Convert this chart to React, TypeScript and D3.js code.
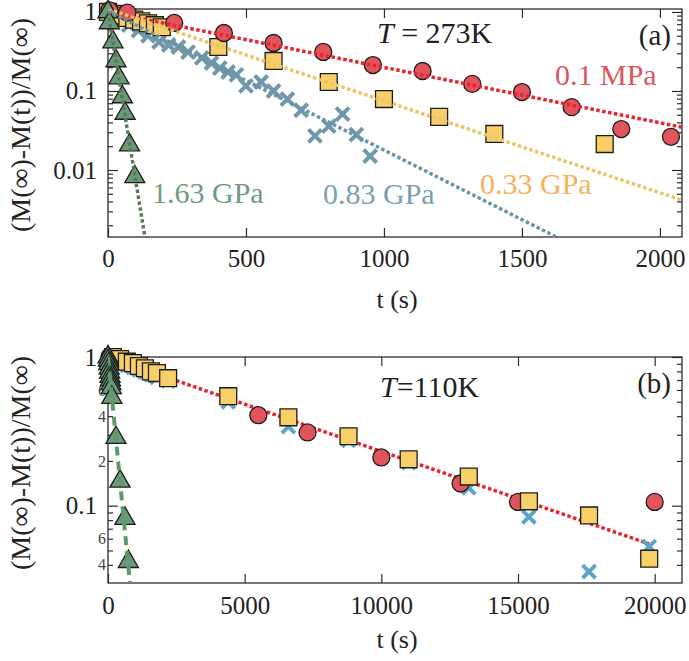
import React, { useRef, useEffect } from 'react'
import * as d3 from 'd3'

// ---- panel (a), T = 273K ----
const aXTicks = [0, 500, 1000, 1500, 2000]
const aXTickLabels = ['0', '500', '1000', '1500', '2000']
const aYTicks = [1, 0.1, 0.01]
const aYTickLabels = ['1', '0.1', '0.01']

// 0.1 MPa
const aCircleT = [5, 70, 240, 420, 600, 780, 960, 1140, 1320, 1500, 1680, 1860, 2040]
const aCircleV = [1.05, 0.98, 0.726, 0.542, 0.405, 0.312, 0.213, 0.179, 0.123, 0.097, 0.0625, 0.033, 0.0263]
// 0.33 GPa
const aSquareT = [0, 20, 45, 70, 95, 120, 145, 170, 195, 400, 600, 800, 1000, 1200, 1400, 1800]
const aSquareV = [1.0, 0.95, 0.9, 0.84, 0.8, 0.76, 0.72, 0.68, 0.64, 0.36, 0.24, 0.13, 0.079, 0.047, 0.0286, 0.0213]
// 0.83 GPa
const aCrossT = [40, 75, 110, 145, 185, 220, 255, 290, 340, 375, 405, 435, 465, 500, 555, 600, 650, 700, 750, 800, 850, 900, 950]
const aCrossV = [0.8, 0.68, 0.58, 0.5, 0.417, 0.382, 0.36, 0.31, 0.262, 0.226, 0.195, 0.174, 0.16, 0.116, 0.13, 0.1, 0.079, 0.057, 0.027, 0.036, 0.051, 0.028, 0.015]
// 1.63 GPa
const aTriT = [0, 5, 18, 29, 40, 52, 62, 78, 97]
const aTriV = [1.0, 0.726, 0.417, 0.24, 0.146, 0.084, 0.052, 0.0207, 0.0082]

// fitted lines (end points)
const aRedFitT = [0, 2080]
const aRedFitV = [1.0, 0.0348]
const aYellowFitT = [0, 2080]
const aYellowFitV = [1.09, 0.00416]
const aBlueFitT = [0, 1625]
const aBlueFitV = [1.03, 0.00142]
const aGreenFitT = [0, 134]
const aGreenFitV = [1.0, 0.00141]

// ---- panel (b), T = 110K ----
const bXTicks = [0, 5000, 10000, 15000, 20000]
const bXTickLabels = ['0', '5000', '10000', '15000', '20000']
const bYTicks = [1, 0.1]
const bYTickLabels = ['1', '0.1']
const bMinorLabelV = [0.6, 0.4, 0.2, 0.06, 0.04]
const bMinorLabels = ['6', '4', '2', '6', '4']

const bCircleT = [50, 300, 5500, 7300, 10000, 12900, 15000, 20000]
const bCircleV = [1.0, 0.97, 0.406, 0.311, 0.211, 0.141, 0.106, 0.106]
const bSquareT = [180, 440, 690, 910, 1130, 1350, 1570, 1790, 2200, 4400, 6600, 8800, 11000, 13200, 15400, 17600, 19800]
const bSquareV = [1.0, 0.97, 0.93, 0.91, 0.87, 0.84, 0.8, 0.78, 0.72, 0.545, 0.393, 0.293, 0.205, 0.157, 0.107, 0.086, 0.044]
const bCrossT = [180, 440, 690, 910, 1130, 1350, 1570, 1790, 2200, 4400, 6600, 8800, 11000, 13200, 15400, 17600, 19800]
const bCrossV = [0.96, 0.92, 0.88, 0.85, 0.82, 0.79, 0.76, 0.73, 0.69, 0.5, 0.34, 0.275, 0.195, 0.132, 0.084, 0.036, 0.053]
const bTriT = [0, 15, 30, 45, 60, 75, 90, 105, 120, 140, 290, 440, 620, 745]
const bTriV = [1.0, 0.95, 0.9, 0.84, 0.79, 0.74, 0.7, 0.66, 0.62, 0.534, 0.287, 0.146, 0.082, 0.042]

const bRedFitT = [0, 19800]
const bRedFitV = [1.0, 0.0553]
const bGreenFitT = [0, 804]
const bGreenFitV = [1.0, 0.03]

const FONT = '"Liberation Serif", "Times New Roman", serif'
const AXIS = '#2b2b2b'

const zip = (t: number[], v: number[]) => t.map((d, i) => ({ t: d, v: v[i] }))

const circleStyle = { kind: 'circle', fill: '#e2545c' }
const squareStyle = { kind: 'square', fill: '#f9cf68' }
const triStyle = { kind: 'tri', fill: '#6b9a78' }

const panelA = {
  id: 'a',
  left: 108, right: 682, top: 9, bottom: 237,
  xDomain: [0, 2080], yDomain: [0.00142, 1.09],
  xTicks: aXTicks, xLabels: aXTickLabels, yTicks: aYTicks, yLabels: aYTickLabels,
  minorV: [] as number[], minorL: [] as string[],
  xPad: 12,
  under: [] as any[],
  series: [
    { data: zip(aCrossT, aCrossV), kind: 'cross', color: '#6f98aa' },
    { data: zip(aSquareT, aSquareV), ...squareStyle },
    { data: zip(aCircleT, aCircleV), ...circleStyle },
    { data: zip(aTriT, aTriV), ...triStyle },
  ],
  fits: [
    { data: zip(aRedFitT, aRedFitV), color: '#e8242e', dash: '3.5,2.5', w: 3.5 },
    { data: zip(aYellowFitT, aYellowFitV), color: '#ecc46a', dash: '3.5,2.5', w: 3.5 },
    { data: zip(aBlueFitT, aBlueFitV), color: '#6a95a8', dash: '3.5,2.5', w: 3.5 },
    { data: zip(aGreenFitT, aGreenFitV), color: '#5a7a5c', dash: '3.5,2.5', w: 3.5 },
  ],
  texts: [
    { x: 555, y: 85, s: '0.1 MPa', color: '#e0555c', size: 30 },
    { x: 480, y: 194, s: '0.33 GPa', color: '#f6b25b', size: 30 },
    { x: 323, y: 204, s: '0.83 GPa', color: '#7b9fb0', size: 30 },
    { x: 152, y: 203, s: '1.63 GPa', color: '#6f9b7d', size: 30 },
    { x: 671, y: 45, s: '(a)', color: '#222', size: 29, anchor: 'end' },
  ],
  tLabel: { x: 377, y: 43, rest: ' = 273K' },
  xTitleY: 308, yTitleY: 125,
}

const panelB = {
  id: 'b',
  left: 108, right: 682, top: 357, bottom: 583,
  xDomain: [0, 21000], yDomain: [0.0302, 1.0],
  xTicks: bXTicks, xLabels: bXTickLabels, yTicks: bYTicks, yLabels: bYTickLabels,
  minorV: bMinorLabelV, minorL: bMinorLabels,
  xPad: 13,
  under: [
    { data: zip(bRedFitT, bRedFitV), color: '#e8242e', dash: '3.5,2.5', w: 3.5 },
  ],
  series: [
    { data: zip(bCrossT, bCrossV), kind: 'cross', color: '#5aa5c8' },
    { data: zip(bCircleT, bCircleV), ...circleStyle },
    { data: zip(bSquareT, bSquareV), ...squareStyle },
    { data: zip(bTriT, bTriV), ...triStyle },
  ],
  fits: [
    { data: zip(bGreenFitT, bGreenFitV), color: '#5e9a69', dash: '9,6', w: 4 },
  ],
  texts: [
    { x: 671, y: 393, s: '(b)', color: '#222', size: 29, anchor: 'end' },
  ],
  tLabel: { x: 380, y: 397, rest: '=110K' },
  xTitleY: 648, yTitleY: 463,
}

// 2..9 x 10^e inside the domain, for the small log ticks
function minorTicks(domain: number[]) {
  const out: number[] = []
  const e0 = Math.floor(Math.log10(domain[0]))
  const e1 = Math.ceil(Math.log10(domain[1]))
  for (let e = e0; e <= e1; e++) {
    for (let k = 2; k <= 9; k++) {
      const v = k * Math.pow(10, e)
      if (v >= domain[0] && v <= domain[1]) out.push(v)
    }
  }
  return out
}

function styleAxis(g: any, size = 25, fill = '#222') {
  g.select('.domain').remove()
  g.selectAll('.tick line').attr('stroke', AXIS).attr('stroke-width', 1.2)
  g.selectAll('.tick text')
    .attr('font-family', FONT)
    .attr('font-size', size)
    .attr('fill', fill)
}

function drawPanel(svg: any, p: any) {
  const x = d3.scaleLinear().domain(p.xDomain).range([p.left, p.right])
  const y = d3.scaleLog().domain(p.yDomain).range([p.bottom, p.top])
  const g = svg.append('g')

  const clipId = 'clip-' + p.id
  g.append('clipPath').attr('id', clipId)
    .append('rect')
    .attr('x', p.left).attr('y', p.top)
    .attr('width', p.right - p.left).attr('height', p.bottom - p.top)

  const line = d3.line<any>().x(d => x(d.t)).y(d => y(d.v))

  const drawFits = (fits: any[]) => {
    fits.forEach(f => {
      g.append('path')
        .attr('clip-path', `url(#${clipId})`)
        .attr('d', line(f.data))
        .attr('fill', 'none')
        .attr('stroke', f.color)
        .attr('stroke-width', f.w)
        .attr('stroke-dasharray', f.dash)
    })
  }

  // axes, ticks pointing inwards on all four sides
  const minor = minorTicks(p.yDomain)
  const ax = (axis: any, tx: number, ty: number, size?: number, fill?: string) => {
    const a = g.append('g').attr('transform', `translate(${tx},${ty})`).call(axis)
    styleAxis(a, size, fill)
    return a
  }
  ax(d3.axisBottom(x).tickValues(p.xTicks).tickFormat((d: any, i: number) => p.xLabels[i])
    .tickSizeInner(-9).tickSizeOuter(0).tickPadding(p.xPad), 0, p.bottom)
  ax(d3.axisTop(x).tickValues(p.xTicks).tickFormat(() => '')
    .tickSizeInner(-9).tickSizeOuter(0), 0, p.top)
  ax(d3.axisLeft(y).tickValues(p.yTicks).tickFormat((d: any, i: number) => p.yLabels[i])
    .tickSizeInner(-10).tickSizeOuter(0).tickPadding(11), p.left, 0)
  ax(d3.axisLeft(y).tickValues(minor).tickFormat(() => '')
    .tickSizeInner(-5).tickSizeOuter(0), p.left, 0)
  ax(d3.axisRight(y).tickValues(p.yTicks).tickFormat(() => '')
    .tickSizeInner(-10).tickSizeOuter(0), p.right, 0)
  ax(d3.axisRight(y).tickValues(minor).tickFormat(() => '')
    .tickSizeInner(-5).tickSizeOuter(0), p.right, 0)
  if (p.minorV.length) {
    ax(d3.axisLeft(y).tickValues(p.minorV).tickFormat((d: any, i: number) => p.minorL[i])
      .tickSize(0).tickPadding(2), p.left, 0, 16, '#444')
  }

  g.append('rect')
    .attr('x', p.left).attr('y', p.top)
    .attr('width', p.right - p.left).attr('height', p.bottom - p.top)
    .attr('fill', 'none').attr('stroke', AXIS).attr('stroke-width', 1.3)

  drawFits(p.under)

  // markers
  const sq = d3.symbol().type(d3.symbolSquare).size(285)
  const tri = d3.symbol().type(d3.symbolTriangle).size(175)
  p.series.forEach((s: any) => {
    const sel = g.append('g').selectAll('path').data(s.data).enter()
    if (s.kind === 'circle') {
      sel.append('circle')
        .attr('cx', (d: any) => x(d.t)).attr('cy', (d: any) => y(d.v)).attr('r', 8.5)
        .attr('fill', s.fill).attr('stroke', '#1c1c1c').attr('stroke-width', 1.3)
    } else if (s.kind === 'cross') {
      sel.append('path')
        .attr('transform', (d: any) => `translate(${x(d.t)},${y(d.v)})`)
        .attr('d', 'M-6.5,-6.5L6.5,6.5M-6.5,6.5L6.5,-6.5')
        .attr('stroke', s.color).attr('stroke-width', 4).attr('fill', 'none')
    } else {
      sel.append('path')
        .attr('transform', (d: any) => `translate(${x(d.t)},${y(d.v)})`)
        .attr('d', s.kind === 'square' ? sq() : tri())
        .attr('fill', s.fill).attr('stroke', '#1c1c1c').attr('stroke-width', 1.3)
    }
  })

  drawFits(p.fits)

  // annotations
  p.texts.forEach((t: any) => {
    g.append('text')
      .attr('x', t.x).attr('y', t.y)
      .attr('text-anchor', t.anchor || 'start')
      .attr('font-family', FONT).attr('font-size', t.size)
      .attr('fill', t.color)
      .text(t.s)
  })
  const tl = g.append('text')
    .attr('x', p.tLabel.x).attr('y', p.tLabel.y)
    .attr('font-family', FONT).attr('font-size', 30).attr('fill', '#222')
  tl.append('tspan').attr('font-style', 'italic').text('T')
  tl.append('tspan').text(p.tLabel.rest)

  // axis titles
  g.append('text')
    .attr('x', 397)
    .attr('y', p.xTitleY)
    .attr('text-anchor', 'middle')
    .attr('font-family', FONT).attr('font-size', 26).attr('fill', '#222')
    .text('t (s)')
  g.append('text')
    .attr('transform', `translate(30,${p.yTitleY}) rotate(-90)`)
    .attr('text-anchor', 'middle')
    .attr('font-family', FONT).attr('font-size', 28).attr('fill', '#222')
    .text('(M(∞)-M(t))/M(∞)')
}

const App = () => {
  const ref = useRef<SVGSVGElement>(null)

  useEffect(() => {
    if (!ref.current) return
    const svg = d3.select(ref.current)
    svg.selectAll('*').remove()
    drawPanel(svg, panelA)
    drawPanel(svg, panelB)
  }, [])

  return (
    <svg ref={ref} width={689} height={661}
      style={{ position: 'absolute', left: 0, top: 0, background: '#fff' }} />
  )
}

export default App
